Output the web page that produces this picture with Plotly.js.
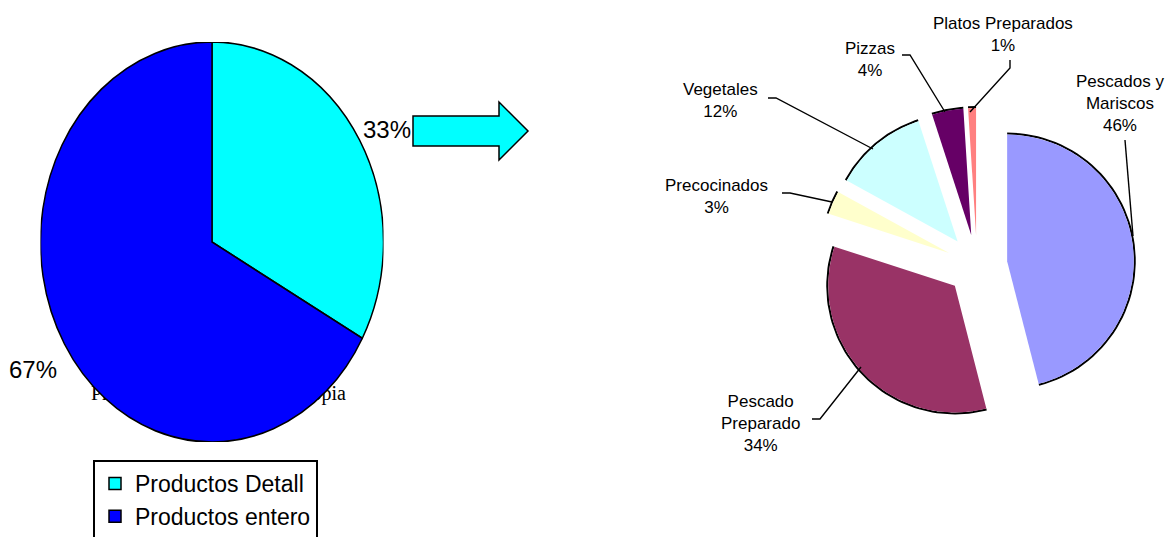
<!DOCTYPE html>
<html><head><meta charset="utf-8">
<script src="https://cdn.plot.ly/plotly-3.0.1.min.js"></script>
<style>
html,body{margin:0;padding:0;background:#fff;}
#wrap{position:relative;width:1175px;height:537px;overflow:hidden;}
#main{position:absolute;left:0;top:0;width:1175px;height:537px;}
#left{position:absolute;left:12px;top:42px;width:400px;height:400px;transform:scaleX(0.8575);transform-origin:50% 50%;}
</style></head><body>
<div id="wrap"><div id="main"></div><div id="left"></div></div>
<script>
// ---- data ----
const leftLabels = ["Productos Detall", "Productos entero"];
const leftValues = [33, 67];
const leftColors = ["#00FFFF", "#0000FF"];

const rightLabels = ["Pescados y Mariscos", "Pescado Preparado", "Precocinados", "Vegetales", "Pizzas", "Platos Preparados"];
const rightValues = [46, 34, 3, 12, 4, 1];
const rightColors = ["#9999FF", "#993366", "#FFFFCC", "#CCFFFF", "#660066", "#FF8080"];
const rightLabelLines = ["Pescados y<br>Mariscos", "Pescado<br>Preparado", "Precocinados", "Vegetales", "Pizzas", "Platos Preparados"];

// ---- style / positions (pixels) ----
const W = 1175, H = 537;
const FONT = "Arial, 'Liberation Sans', sans-serif";
const labelPos = [[1120,103],[760,423],[716,196],[720,100],[870,59],[1003,34]];
const leaders = [
  [[1125,140],[1133,236]],
  [[812,419],[820,419],[861,367]],
  [[782,193],[790,193],[832,202]],
  [[768,98],[776,98],[873,149]],
  [[902,55],[910,55],[945,112]],
  [[1010,60],[1010,68],[970,112]]
];
const rPull = 0.24;
const rCx = 977, rCy = 265, rSide = 314;
const rDomX = [(rCx - rSide/2)/W, (rCx + rSide/2)/W];
const rDomY = [1 - (rCy + rSide/2)/H, 1 - (rCy - rSide/2)/H];

// ---- left pie (own div, squeezed into an ellipse) ----
Plotly.newPlot('left', [{
  type: 'pie', labels: leftLabels, values: leftValues, sort: false,
  direction: 'clockwise', rotation: 0, textinfo: 'none', hoverinfo: 'none',
  marker: {colors: leftColors, line: {color: '#000', width: 1.7}},
  domain: {x: [0,1], y: [0,1]}, showlegend: false
}], {
  width: 400, height: 400, margin: {l:0,r:0,t:0,b:0},
  paper_bgcolor: 'rgba(0,0,0,0)', plot_bgcolor: 'rgba(0,0,0,0)', showlegend: false
}, {staticPlot: true});

// ---- outer arcs of the exploded right pie, computed from the values ----
const total = rightValues.reduce((a,b)=>a+b,0);
const R = rSide/2/(1+rPull);
const arcR = R + 1;
const arcX = [], arcY = [];
let cum = 0;
rightValues.forEach(v => {
  const t0 = 2*Math.PI*cum/total, t1 = 2*Math.PI*(cum+v)/total, tm = (t0+t1)/2;
  const ox = rCx + rPull*R*Math.sin(tm), oy = rCy - rPull*R*Math.cos(tm);
  const n = 60;
  for (let i = 0; i <= n; i++) {
    const t = t0 + (t1-t0)*i/n;
    arcX.push(ox + arcR*Math.sin(t)); arcY.push(oy - arcR*Math.cos(t));
  }
  arcX.push(null); arcY.push(null);
  cum += v;
});

const traces = [
  { // legend source for the left pie (hidden beneath the drawn pie)
    type: 'pie', labels: leftLabels, values: leftValues, sort: false,
    direction: 'clockwise', textinfo: 'none', hoverinfo: 'none',
    marker: {colors: leftColors, line: {color: '#000', width: 1.5}},
    domain: {x: [0.17, 0.19], y: [0.5, 0.54]}, showlegend: true
  },
  {
    type: 'pie', labels: rightLabels, values: rightValues, sort: false,
    direction: 'clockwise', rotation: 0, pull: rPull, textinfo: 'none', hoverinfo: 'none',
    marker: {colors: rightColors, line: {width: 0}},
    domain: {x: rDomX, y: rDomY}, showlegend: false
  },
  {
    type: 'scatter', mode: 'lines', x: arcX, y: arcY, hoverinfo: 'skip',
    line: {color: '#000', width: 2}, showlegend: false
  }
];

const shapes = [{
  type: 'path', xref: 'x', yref: 'y',
  path: 'M413,116 L499,116 L499,102 L528,131 L499,160 L499,146 L413,146 Z',
  fillcolor: '#00FFFF', line: {color: '#000', width: 1.5}, layer: 'above'
}];
leaders.forEach(pts => {
  shapes.push({
    type: 'path', xref: 'x', yref: 'y',
    path: 'M' + pts.map(p => p[0] + ',' + p[1]).join(' L'),
    line: {color: '#000', width: 1.4}
  });
});

const annotations = [
  {x: 218, y: 393, text: 'Productos de fabricación propia', font: {family: "'Times New Roman', 'Liberation Serif', serif", size: 20, color: '#000'}},
  {x: 387, y: 129, text: leftValues[0] + '%', font: {family: FONT, size: 24, color: '#000'}},
  {x: 33, y: 369, text: leftValues[1] + '%', font: {family: FONT, size: 24, color: '#000'}}
];
rightLabelLines.forEach((t, i) => {
  annotations.push({
    x: labelPos[i][0], y: labelPos[i][1], text: t + '<br>' + rightValues[i] + '%',
    font: {family: FONT, size: 17, color: '#000'}
  });
});
annotations.forEach(a => { a.xref = 'x'; a.yref = 'y'; a.showarrow = false; a.xanchor = 'center'; a.yanchor = 'middle'; a.align = 'center'; });

Plotly.newPlot('main', traces, {
  width: W, height: H, margin: {l:0, r:0, t:0, b:0, autoexpand: false},
  paper_bgcolor: '#fff', plot_bgcolor: 'rgba(0,0,0,0)',
  xaxis: {range: [0, W], visible: false, fixedrange: true},
  yaxis: {range: [H, 0], visible: false, fixedrange: true},
  showlegend: true,
  legend: {x: 93/W, y: 1 - 460/H, xanchor: 'left', yanchor: 'top',
    bgcolor: '#fff', bordercolor: '#000', borderwidth: 2, tracegroupgap: 0,
    font: {family: FONT, size: 23, color: '#000'}},
  shapes: shapes, annotations: annotations
}, {staticPlot: true});
</script>
</body></html>
